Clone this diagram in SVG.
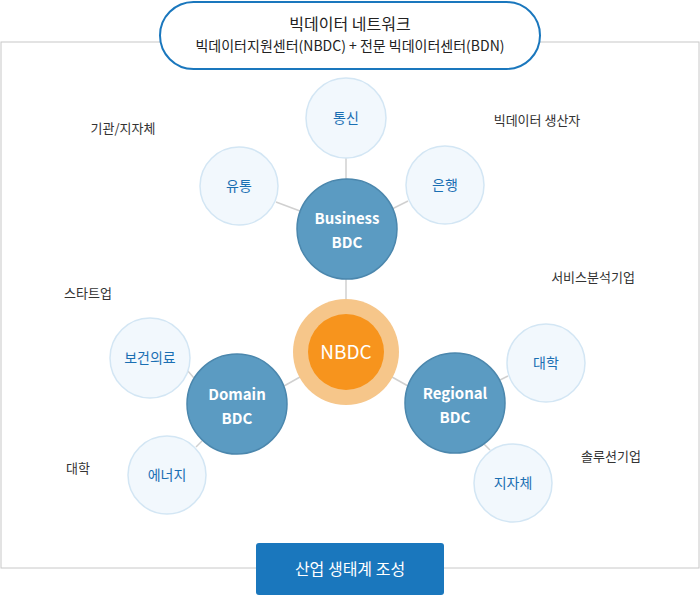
<svg xmlns="http://www.w3.org/2000/svg" width="700" height="595" viewBox="0 0 700 595">
<style>
text{font-family:"Noto Sans CJK KR","Noto Sans",sans-serif;text-anchor:middle}
.s{fill:#f2f8fd;stroke:#d3e6f4;stroke-width:1.5}
.st{fill:#1a6fb3;font-size:14px}
.b{fill:#5b9bc2;stroke:#4b87ad;stroke-width:1.5}
.bt{fill:#fff;font-size:15px;font-weight:bold}
.l{fill:#333;font-size:13px}
.c{stroke:#d0d0d0;stroke-width:1.5}
</style>
<rect x="1" y="42" width="698" height="526" fill="#fff" stroke="#c8c8c8"/>
<g id="connectors">
<line class="c" x1="346" y1="158" x2="346" y2="179"/>
<line class="c" x1="276" y1="202" x2="300" y2="211"/>
<line class="c" x1="408" y1="201" x2="392" y2="209"/>
<line class="c" x1="346" y1="279" x2="346" y2="299"/>
<line class="c" x1="284" y1="386" x2="300" y2="377"/>
<line class="c" x1="392" y1="377" x2="408" y2="386"/>
<line class="c" x1="187" y1="370" x2="194" y2="378"/>
<line class="c" x1="196" y1="447" x2="202" y2="441"/>
<line class="c" x1="500" y1="380" x2="508" y2="376"/>
<line class="c" x1="484" y1="444" x2="490" y2="450"/>
</g>
<g id="top"><rect x="160" y="2" width="380" height="67" rx="33.5" fill="#fff" stroke="#1a77bd" stroke-width="2"/>
<text x="350" y="30" font-size="16" fill="#222">빅데이터 네트워크</text>
<text x="350" y="51" font-size="14" fill="#222">빅데이터지원센터(NBDC) + 전문 빅데이터센터(BDN)</text></g>
<g id="n-tongsin"><circle class="s" cx="346" cy="118" r="40"/><text class="st" x="346" y="123">통신</text></g>
<g id="n-yutong"><circle class="s" cx="239" cy="186" r="39"/><text class="st" x="239" y="191">유통</text></g>
<g id="n-eunhaeng"><circle class="s" cx="445" cy="185" r="39"/><text class="st" x="445" y="190">은행</text></g>
<g id="n-business"><circle class="b" cx="347" cy="229" r="50"/><text class="bt" x="347" y="224">Business</text><text class="bt" x="347" y="248">BDC</text></g>
<g id="n-nbdc"><circle cx="346" cy="352" r="53" fill="#f6c68a"/><circle cx="346" cy="352" r="38" fill="#f7941d"/><text x="346" y="359" font-size="19" fill="#fff">NBDC</text></g>
<g id="n-domain"><circle class="b" cx="237" cy="404" r="50"/><text class="bt" x="237" y="400">Domain</text><text class="bt" x="237" y="424">BDC</text></g>
<g id="n-regional"><circle class="b" cx="455" cy="403" r="50"/><text class="bt" x="455" y="399">Regional</text><text class="bt" x="455" y="423">BDC</text></g>
<g id="n-bogeon"><circle class="s" cx="150" cy="358" r="40"/><text class="st" x="150" y="363">보건의료</text></g>
<g id="n-energy"><circle class="s" cx="167" cy="475" r="39"/><text class="st" x="167" y="480">에너지</text></g>
<g id="n-daehak"><circle class="s" cx="546" cy="363" r="39"/><text class="st" x="546" y="368">대학</text></g>
<g id="n-jijache"><circle class="s" cx="513" cy="483" r="39"/><text class="st" x="513" y="488">지자체</text></g>
<g id="labels">
<text class="l" x="123" y="133">기관/지자체</text>
<text class="l" x="537" y="125">빅데이터 생산자</text>
<text class="l" x="88" y="298">스타트업</text>
<text class="l" x="593" y="282">서비스분석기업</text>
<text class="l" x="78" y="473">대학</text>
<text class="l" x="611" y="461">솔루션기업</text>
</g>
<g id="bottom"><rect x="256" y="543" width="188" height="52" rx="3" fill="#1a77bd"/><text x="350" y="575" font-size="16" fill="#fff">산업 생태계 조성</text></g>
</svg>
